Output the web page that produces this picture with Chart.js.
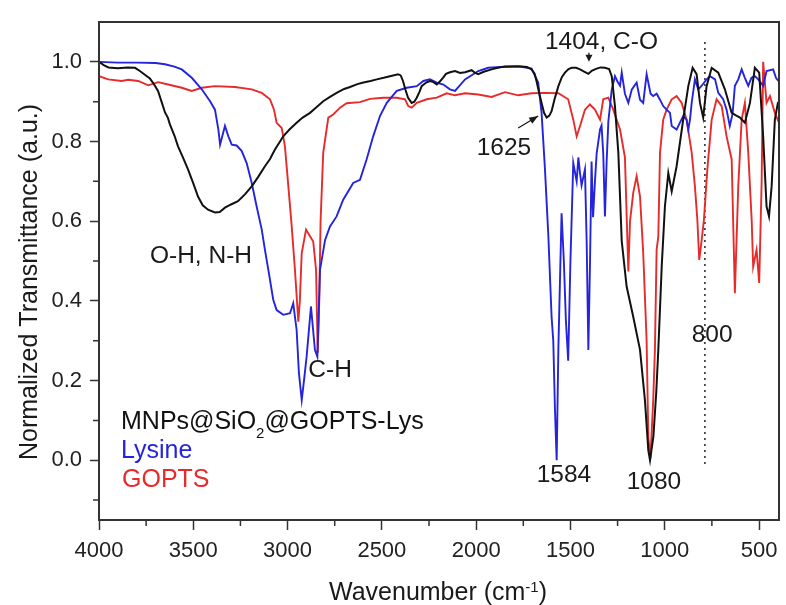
<!DOCTYPE html>
<html><head><meta charset="utf-8">
<script src="https://cdn.jsdelivr.net/npm/chart.js@4.4.1/dist/chart.umd.min.js"></script>
<style>html,body{margin:0;padding:0;background:#fff;}canvas{display:block;}</style>
</head><body>
<canvas id="c" width="786" height="605"></canvas>
<script>
// ---- axis ticks ----
const xTicks = [4000,3500,3000,2500,2000,1500,1000,500];
const xMinorTicks = [3750,3250,2750,2250,1750,1250,750];
const yTicks = [0,0.2,0.4,0.6,0.8,1.0];
const yMinorTicks = [-0.1,0.1,0.3,0.5,0.7,0.9];

// ---- series names ----
const seriesNames = ['MNPs@SiO2@GOPTS-Lys','Lysine','GOPTS'];

// ---- MNPs@SiO2@GOPTS-Lys (black) ----
const mnpWn = [4000,3975,3950,3900,3850,3809,3783,3755,3730,3710,
3687,3665,3650,3635,3624,3600,3581,3555,3528,3500,
3475,3450,3422,3385,3360,3332,3300,3263,3225,3189,
3155,3120,3093,3067,3040,3023,2990,2952,2920,2881,
2850,2811,2775,2740,2700,2669,2630,2598,2560,2527,
2490,2457,2414,2400,2388,2375,2361,2342,2328,2315,
2300,2289,2265,2245,2230,2209,2190,2176,2160,2139,
2112,2085,2059,2024,2005,1989,1960,1918,1880,1847,
1800,1759,1730,1706,1690,1680,1665,1653,1640,1626,
1612,1600,1585,1564,1545,1529,1510,1493,1470,1449,
1425,1405,1385,1361,1340,1317,1295,1281,1264,1246,
1228,1202,1167,1131,1105,1087,1078,1060,1045,1034,
1016,999,981,963,937,902,875,852,831,813,
796,778,751,716,681,645,620,601,575,548,
522,499,478,460,447,433,416,400,394];
const mnpT = [1.0,0.992,0.986,0.984,0.986,0.985,0.977,0.967,0.958,0.945,
0.927,0.895,0.873,0.86,0.843,0.815,0.788,0.76,0.73,0.695,
0.662,0.64,0.629,0.622,0.623,0.634,0.642,0.65,0.668,0.688,
0.712,0.738,0.756,0.78,0.80,0.813,0.83,0.847,0.86,0.872,
0.885,0.901,0.912,0.922,0.932,0.937,0.944,0.948,0.952,0.956,
0.96,0.964,0.969,0.966,0.952,0.93,0.91,0.897,0.9,0.91,
0.925,0.939,0.948,0.952,0.95,0.943,0.952,0.96,0.97,0.974,
0.977,0.972,0.974,0.979,0.972,0.969,0.975,0.981,0.986,0.988,
0.988,0.988,0.987,0.981,0.97,0.952,0.92,0.897,0.872,0.86,
0.865,0.876,0.905,0.939,0.962,0.973,0.982,0.985,0.985,0.981,
0.975,0.97,0.978,0.983,0.986,0.985,0.982,0.964,0.889,0.772,
0.55,0.436,0.36,0.277,0.151,0.025,0.0,0.06,0.17,0.277,
0.486,0.637,0.721,0.675,0.738,0.855,0.939,0.985,0.969,0.897,
0.86,0.939,0.985,0.973,0.931,0.872,0.865,0.86,0.847,0.897,
0.985,0.973,0.813,0.637,0.612,0.688,0.855,0.897,0.9];

// ---- Lysine (blue) ----
const lysWn = [4000,3900,3800,3700,3650,3600,3561,3508,3455,3411,
3385,3367,3358,3348,3332,3314,3296,3270,3243,3217,
3190,3164,3137,3120,3102,3076,3058,3023,2987,2970,
2952,2940,2925,2913,2899,2876,2855,2842,2828,2801,
2775,2740,2705,2652,2616,2581,2546,2510,2474,2421,
2368,2315,2280,2245,2209,2174,2139,2112,2059,1989,
1936,1865,1777,1706,1671,1653,1635,1617,1600,1591,
1582,1573,1564,1547,1535,1524,1512,1500,1485,1467,
1458,1449,1441,1423,1414,1405,1396,1388,1380,1370,
1361,1343,1335,1326,1317,1308,1299,1281,1264,1250,
1237,1228,1211,1193,1175,1149,1131,1114,1096,1075,
1061,1043,1025,1008,990,972,963,937,920,902,
884,875,866,857,840,822,804,778,760,733,
716,690,672,655,640,628,610,592,575,557,
540,522,504,478,460,425,410,394];
const lysT = [1.0,0.998,0.998,0.997,0.994,0.988,0.981,0.96,0.931,0.901,
0.88,0.83,0.792,0.81,0.839,0.813,0.792,0.79,0.776,0.746,
0.696,0.637,0.579,0.528,0.478,0.403,0.377,0.365,0.369,0.394,
0.327,0.22,0.151,0.2,0.26,0.386,0.277,0.26,0.478,0.553,
0.587,0.612,0.654,0.696,0.704,0.755,0.813,0.864,0.897,0.927,
0.935,0.939,0.952,0.956,0.948,0.943,0.931,0.927,0.956,0.977,
0.985,0.987,0.989,0.983,0.948,0.872,0.73,0.562,0.36,0.3,
0.126,0.0,0.28,0.62,0.5,0.35,0.25,0.5,0.746,0.70,
0.76,0.72,0.69,0.73,0.55,0.277,0.5,0.75,0.61,0.70,
0.77,0.83,0.84,0.77,0.612,0.75,0.85,0.93,0.964,0.95,
0.94,0.973,0.92,0.897,0.93,0.948,0.905,0.897,0.969,0.92,
0.914,0.92,0.905,0.889,0.88,0.872,0.839,0.83,0.847,0.864,
0.855,0.83,0.855,0.897,0.956,0.931,0.94,0.956,0.964,0.956,
0.922,0.906,0.88,0.839,0.87,0.94,0.956,0.981,0.96,0.94,
0.96,0.964,0.956,0.94,0.977,0.981,0.96,0.95];

// ---- GOPTS (red) ----
const gopWn = [4000,3951,3880,3845,3792,3739,3686,3633,3561,3508,
3455,3385,3279,3190,3137,3093,3072,3058,3031,3014,
2996,2978,2961,2943,2935,2925,2902,2881,2864,2849,
2840,2832,2825,2811,2784,2758,2722,2687,2616,2563,
2492,2421,2377,2360,2342,2315,2262,2209,2156,2112,
2059,1989,1918,1847,1777,1706,1635,1564,1512,1485,
1467,1449,1423,1397,1370,1343,1326,1299,1273,1237,
1211,1193,1184,1167,1149,1131,1114,1096,1087,1076,
1061,1052,1043,1034,1025,1008,990,963,937,910,
884,857,840,827,817,804,792,774,751,725,
698,672,645,628,610,592,575,557,539,531,
513,499,486,478,460,442,416,394];
const gopT = [0.964,0.956,0.952,0.955,0.952,0.941,0.949,0.943,0.935,0.927,
0.935,0.939,0.937,0.931,0.922,0.906,0.88,0.847,0.834,0.788,
0.688,0.587,0.478,0.348,0.40,0.52,0.579,0.562,0.549,0.478,
0.27,0.4,0.6,0.772,0.86,0.868,0.885,0.896,0.899,0.907,
0.91,0.91,0.906,0.889,0.885,0.897,0.906,0.91,0.921,0.916,
0.921,0.918,0.912,0.924,0.916,0.921,0.922,0.921,0.906,0.855,
0.813,0.839,0.88,0.893,0.88,0.855,0.906,0.91,0.88,0.83,
0.76,0.474,0.6,0.671,0.713,0.662,0.52,0.3,0.059,0.004,
0.151,0.277,0.528,0.562,0.772,0.855,0.88,0.906,0.914,0.897,
0.855,0.772,0.688,0.604,0.503,0.553,0.604,0.73,0.855,0.906,
0.889,0.813,0.755,0.419,0.688,0.855,0.897,0.772,0.604,0.486,
0.528,0.445,0.7,1.0,0.897,0.914,0.872,0.847];

// ---- dotted marker line ----
const markerWn = [787,787];
const markerT = [1.05,-0.01];

// ---- text annotations (left / baseline anchored, data units) ----
const annotations = [
  {text:'O-H, N-H', wn:3730, t:0.496},
  {text:'C-H', wn:2890, t:0.21},
  {text:'1625', wn:1997, t:0.767},
  {text:'1404, C-O', wn:1635, t:1.031},
  {text:'1584', wn:1679, t:-0.055},
  {text:'1080', wn:1202, t:-0.071},
  {text:'800', wn:857, t:0.298}
];

const FONT = '"Liberation Sans", Arial, Helvetica, sans-serif';
const COL_BLACK = '#111111', COL_BLUE = '#2424dd', COL_RED = '#e62b2b';

function pts(w, t){ return w.map((v,i)=>({x:v, y:t[i]})); }

const decor = {
  id:'decor',
  afterDraw(chart){
    const {ctx, chartArea:a, scales:{x, y}} = chart;
    ctx.save();
    // frame
    ctx.strokeStyle = '#333'; ctx.lineWidth = 2;
    ctx.strokeRect(a.left, a.top, a.right - a.left, a.bottom - a.top);
    // minor ticks
    ctx.lineWidth = 1.5;
    ctx.beginPath();
    for (const v of xMinorTicks){ const px = x.getPixelForValue(v); ctx.moveTo(px, a.bottom); ctx.lineTo(px, a.bottom + 6); }
    for (const v of yMinorTicks){ const py = y.getPixelForValue(v); ctx.moveTo(a.left, py); ctx.lineTo(a.left - 6, py); }
    ctx.stroke();

    // annotations
    ctx.fillStyle = '#1a1a1a';
    ctx.font = '24.5px ' + FONT;
    ctx.textAlign = 'left'; ctx.textBaseline = 'alphabetic';
    for (const an of annotations) ctx.fillText(an.text, x.getPixelForValue(an.wn), y.getPixelForValue(an.t));

    // arrow for 1625
    const ax0 = x.getPixelForValue(1777), ay0 = y.getPixelForValue(0.834);
    const ax1 = x.getPixelForValue(1671), ay1 = y.getPixelForValue(0.864);
    ctx.strokeStyle = '#1a1a1a'; ctx.lineWidth = 1.3;
    ctx.beginPath(); ctx.moveTo(ax0, ay0); ctx.lineTo(ax1, ay1); ctx.stroke();
    const ang = Math.atan2(ay1 - ay0, ax1 - ax0);
    ctx.beginPath();
    ctx.moveTo(ax1, ay1);
    ctx.lineTo(ax1 - 9*Math.cos(ang) + 3.5*Math.sin(ang), ay1 - 9*Math.sin(ang) - 3.5*Math.cos(ang));
    ctx.lineTo(ax1 - 9*Math.cos(ang) - 3.5*Math.sin(ang), ay1 - 9*Math.sin(ang) + 3.5*Math.cos(ang));
    ctx.closePath(); ctx.fillStyle = '#1a1a1a'; ctx.fill();

    // small down arrow for 1404
    const bx = x.getPixelForValue(1402), by = y.getPixelForValue(1.0);
    ctx.beginPath(); ctx.moveTo(bx, by - 9); ctx.lineTo(bx, by - 4); ctx.stroke();
    ctx.beginPath(); ctx.moveTo(bx, by); ctx.lineTo(bx - 3.5, by - 7); ctx.lineTo(bx + 3.5, by - 7); ctx.closePath(); ctx.fill();

    // legend text
    const lx = a.left + 22;
    ctx.font = '25px ' + FONT;
    ctx.fillStyle = COL_BLACK;
    let base = a.top + 406.5;
    let s1 = 'MNPs@SiO';
    ctx.fillText(s1, lx, base);
    let w1 = ctx.measureText(s1).width;
    ctx.font = '15px ' + FONT;
    ctx.fillText('2', lx + w1, base + 9);
    let w2 = ctx.measureText('2').width;
    ctx.font = '25px ' + FONT;
    ctx.fillText('@GOPTS-Lys', lx + w1 + w2, base);
    ctx.fillStyle = COL_BLUE;
    ctx.fillText(seriesNames[1], lx, a.top + 436);
    ctx.fillStyle = COL_RED;
    ctx.fillText(seriesNames[2], lx + 1, a.top + 464.5);

    // x axis title with superscript
    ctx.fillStyle = '#1a1a1a';
    ctx.font = '25px ' + FONT;
    const t1 = 'Wavenumber (cm', t3 = ')';
    const tw1 = ctx.measureText(t1).width, tw3 = ctx.measureText(t3).width;
    ctx.font = '15px ' + FONT;
    const tw2 = ctx.measureText('-1').width;
    const total = tw1 + tw2 + tw3;
    const cx = 438, tb = 600;
    let sx = cx - total/2;
    ctx.font = '25px ' + FONT;
    ctx.fillText(t1, sx, tb);
    ctx.font = '15px ' + FONT;
    ctx.fillText('-1', sx + tw1, tb - 8);
    ctx.font = '25px ' + FONT;
    ctx.fillText(t3, sx + tw1 + tw2, tb);

    // y axis title
    ctx.save();
    ctx.translate(30, 282);
    ctx.rotate(-Math.PI/2);
    ctx.textAlign = 'center'; ctx.textBaseline = 'middle';
    ctx.font = '25px ' + FONT;
    ctx.fillText('Normalized Transmittance (a.u.)', 0, 0);
    ctx.restore();

    ctx.restore();
  }
};

new Chart(document.getElementById('c'), {
  type: 'line',
  data: {
    datasets: [
      {label: seriesNames[0], data: pts(mnpWn, mnpT), borderColor: COL_BLACK, borderWidth: 2, pointRadius: 0, tension: 0, order: 0},
      {label: seriesNames[1], data: pts(lysWn, lysT), borderColor: COL_BLUE, borderWidth: 1.9, pointRadius: 0, tension: 0, order: 1},
      {label: seriesNames[2], data: pts(gopWn, gopT), borderColor: COL_RED, borderWidth: 1.9, pointRadius: 0, tension: 0, order: 2},
      {label: 'marker', data: pts(markerWn, markerT), borderColor: '#333', borderWidth: 1.6, borderDash: [2,4], pointRadius: 0, order: 3}
    ]
  },
  options: {
    responsive: false, animation: false, devicePixelRatio: 1, events: [],
    layout: {padding: {left: 0, top: 22, right: 7, bottom: 0}},
    plugins: {legend: {display: false}, tooltip: {enabled: false}},
    scales: {
      x: {
        type: 'linear', reverse: true, min: 394, max: 4000,
        afterBuildTicks: s => { s.ticks = xTicks.map(v => ({value: v})); },
        afterFit: s => { s.height = 85; },
        grid: {display: true, drawOnChartArea: false, drawTicks: true, tickLength: 10, tickWidth: 1.5, tickColor: '#333'},
        border: {display: false},
        ticks: {font: {family: FONT, size: 22}, color: '#222', padding: 8, maxRotation: 0, autoSkip: false, callback: v => String(v)}
      },
      y: {
        type: 'linear', min: -0.15, max: 1.1,
        afterBuildTicks: s => { s.ticks = yTicks.map(v => ({value: v})); },
        afterFit: s => { s.width = 99; },
        grid: {display: true, drawOnChartArea: false, drawTicks: true, tickLength: 9, tickWidth: 1.5, tickColor: '#333'},
        border: {display: false},
        ticks: {font: {family: FONT, size: 22}, color: '#222', padding: 8, autoSkip: false, callback: v => Number(v).toFixed(1)}
      }
    }
  },
  plugins: [decor]
});
</script>
</body></html>
